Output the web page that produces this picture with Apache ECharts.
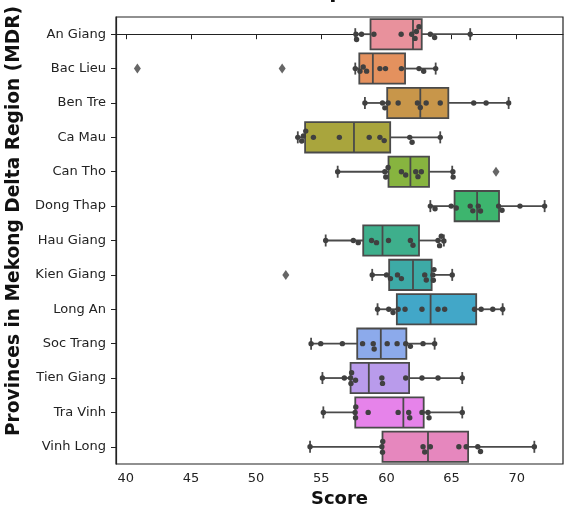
<!DOCTYPE html>
<html>
<head>
<meta charset="utf-8">
<script src="https://cdn.jsdelivr.net/npm/echarts@6/dist/echarts.min.js"></script>
<style>
  html, body { margin: 0; padding: 0; background: #fff; }
  #chart { width: 564px; height: 513px; }
</style>
</head>
<body>
<div id="chart"></div>
<script>
const provinces = ['An Giang', 'Bac Lieu', 'Ben Tre', 'Ca Mau', 'Can Tho', 'Dong Thap', 'Hau Giang',
  'Kien Giang', 'Long An', 'Soc Trang', 'Tien Giang', 'Tra Vinh', 'Vinh Long']

// [lower whisker, Q1, median, Q3, upper whisker]
const boxStats = [
  [57.61, 58.78, 62.04, 62.71, 66.43],
  [57.61, 57.92, 58.96, 61.43, 63.78],
  [58.35, 60.06, 62.6, 64.75, 69.38],
  [53.2, 53.76, 57.51, 60.29, 64.13],
  [56.26, 60.16, 61.84, 63.27, 65.05],
  [63.37, 65.23, 66.96, 68.64, 72.14],
  [55.34, 58.22, 59.7, 62.5, 64.41],
  [58.91, 60.21, 62.04, 63.47, 65.05],
  [59.32, 60.8, 63.39, 66.89, 68.92],
  [54.22, 57.76, 59.57, 61.53, 63.7],
  [55.09, 57.25, 58.65, 61.74, 65.82],
  [55.16, 57.61, 61.3, 62.86, 65.82],
  [54.14, 59.7, 63.19, 66.27, 71.35],
]

// [province index, score]
const outliers = [[1, 40.89], [1, 52.0], [4, 68.41], [7, 52.28]]

const scores = [
  [57.66, 57.71, 58.09, 59.04, 61.13, 61.94, 62.2, 62.3, 62.5, 63.37, 63.7, 66.43],
  [57.61, 57.97, 58.22, 58.48, 59.5, 59.93, 61.15, 62.5, 62.86, 63.78],
  [58.35, 59.7, 59.88, 60.13, 60.9, 62.38, 62.6, 63.05, 64.13, 66.7, 67.65, 69.38],
  [53.2, 53.5, 53.63, 53.81, 54.4, 56.39, 58.68, 59.5, 59.83, 61.79, 61.97, 64.13],
  [56.26, 59.88, 59.95, 60.13, 61.15, 61.48, 62.25, 62.42, 62.68, 65.1, 65.12],
  [63.37, 63.73, 64.97, 65.36, 66.43, 66.63, 67.05, 67.22, 68.61, 68.87, 70.25, 72.14],
  [55.34, 57.46, 57.84, 58.86, 59.24, 60.16, 61.84, 62.04, 63.96, 64.08, 64.21, 64.41],
  [58.91, 60.01, 60.31, 60.85, 61.15, 62.94, 63.06, 63.57, 63.6, 63.65, 65.05],
  [59.32, 60.18, 60.51, 60.9, 61.43, 62.73, 63.96, 64.47, 66.76, 67.27, 68.16, 68.92],
  [54.22, 54.96, 56.62, 58.17, 58.99, 59.06, 60.06, 60.82, 61.48, 61.84, 62.81, 63.7],
  [55.09, 56.77, 57.25, 57.28, 57.33, 57.63, 59.65, 59.7, 61.48, 62.73, 63.96, 65.82],
  [55.16, 57.6, 57.63, 57.65, 58.6, 60.9, 61.71, 61.79, 62.73, 63.19, 63.27, 65.82],
  [54.14, 59.65, 59.7, 59.72, 62.81, 62.94, 63.37, 65.56, 66.12, 67.01, 67.22, 71.35],
]

const boxColors = ['#e8919c', '#e4915e', '#c8964a', '#a9a53d', '#87b43f', '#3db56e', '#3eaf8c',
  '#3daaa6', '#42a7c8', '#8caaeb', '#b99beb', '#e683ea', '#e687be']

const xTicks = [40, 45, 50, 55, 60, 65, 70]

const W = 564, H = 513
const grid = { left: 116, right: 1, top: 17, bottom: 49 }
const xMin = 39.25, xMax = 73.55
const pxPerX = (W - grid.left - grid.right) / (xMax - xMin)
const pxPerY = (H - grid.top - grid.bottom) / provinces.length
const dot = 5.4
const lineColor = '#4a4a4a'
const font = 'DejaVu Sans'

// simple beeswarm: nearest free offset to the category centre, downward first
function swarm(values) {
  const placed = []
  for (const v of values.slice().sort((a, b) => a - b)) {
    const x = v * pxPerX
    const near = placed.filter((p) => Math.abs(p.x - x) < dot)
    const cands = [0]
    near.forEach((p) => {
      const dy = Math.sqrt(dot * dot - (p.x - x) ** 2)
      cands.push(p.y + dy, p.y - dy)
    })
    cands.sort((a, b) => Math.abs(a) - Math.abs(b) || b - a)
    const y = cands.find((c) => near.every((p) => Math.hypot(p.x - x, p.y - c) >= dot - 1e-6))
    placed.push({ x, y, v })
  }
  return placed
}

const swarmData = scores.flatMap((vals, i) => swarm(vals).map((p) => [p.v, i + p.y / pxPerY]))
const boxData = boxStats.map((s, i) => [i, ...s])
const catIdx = provinces.map((_, i) => i)

const chart = echarts.init(document.getElementById('chart'))
chart.setOption({
  animation: false,
  backgroundColor: '#fff',
  textStyle: { fontFamily: font },
  title: {
    text: 'in MDR provinces',
    left: 336,
    textAlign: 'center',
    top: -23,
    textStyle: { fontFamily: font, fontSize: 21, fontWeight: 'bold', color: '#111' },
  },
  graphic: [
    {
      type: 'text',
      x: 14,
      y: 221,
      rotation: Math.PI / 2,
      style: {
        text: 'Provinces in Mekong Delta Region (MDR)',
        font: 'bold 18.6px "DejaVu Sans"',
        fill: '#111',
        textAlign: 'center',
        textVerticalAlign: 'middle',
      },
    },
  ],
  grid: { ...grid, outerBoundsMode: 'none', show: true, borderColor: '#222', borderWidth: 1.2, backgroundColor: '#fff' },
  xAxis: {
    type: 'value',
    min: xMin,
    max: xMax,
    name: 'Score',
    nameLocation: 'middle',
    nameGap: 24,
    nameTextStyle: { fontFamily: font, fontSize: 18, fontWeight: 'bold', color: '#111' },
    axisLine: { show: true, lineStyle: { color: '#222', width: 1.2 } },
    axisTick: { show: true, length: 5, customValues: xTicks, lineStyle: { color: '#222' } },
    axisLabel: { customValues: xTicks, margin: 8, fontSize: 13, color: '#222' },
    splitLine: { show: false },
  },
  yAxis: {
    type: 'value',
    inverse: true,
    min: -0.5,
    max: provinces.length - 0.5,
    axisLine: { show: true, lineStyle: { color: '#222', width: 1.2 } },
    axisTick: { show: true, length: 5, customValues: catIdx, lineStyle: { color: '#222' } },
    axisLabel: {
      customValues: catIdx,
      margin: 10,
      fontSize: 13,
      color: '#222',
      formatter: (v) => provinces[v],
    },
    splitLine: { show: false },
  },
  series: [
    {
      type: 'custom',
      data: boxData,
      z: 2,
      renderItem: (params, api) => {
        const i = api.value(0)
        const lo = api.coord([api.value(1), i])
        const q1 = api.coord([api.value(2), i])
        const md = api.coord([api.value(3), i])
        const q3 = api.coord([api.value(4), i])
        const hi = api.coord([api.value(5), i])
        const y = lo[1]
        const h = pxPerY * 0.88
        const cap = 6
        const st = { stroke: lineColor, lineWidth: 1.8, fill: null }
        return {
          type: 'group',
          children: [
            { type: 'line', shape: { x1: lo[0], y1: y, x2: q1[0], y2: y }, style: st },
            { type: 'line', shape: { x1: q3[0], y1: y, x2: hi[0], y2: y }, style: st },
            { type: 'line', shape: { x1: lo[0], y1: y - cap, x2: lo[0], y2: y + cap }, style: st },
            { type: 'line', shape: { x1: hi[0], y1: y - cap, x2: hi[0], y2: y + cap }, style: st },
            {
              type: 'rect',
              shape: { x: q1[0], y: y - h / 2, width: q3[0] - q1[0], height: h },
              style: { fill: boxColors[i], stroke: lineColor, lineWidth: 1.8 },
            },
            { type: 'line', shape: { x1: md[0], y1: y - h / 2, x2: md[0], y2: y + h / 2 }, style: st },
          ],
        }
      },
    },
    {
      type: 'scatter',
      data: swarmData,
      z: 3,
      symbolSize: dot,
      itemStyle: { color: '#404040', opacity: 1 },
    },
    {
      type: 'scatter',
      data: outliers.map(([i, v]) => [v, i]),
      z: 4,
      symbol: 'diamond',
      symbolSize: [7, 10],
      itemStyle: { color: '#404040' },
    },
  ],
})
</script>
</body>
</html>
